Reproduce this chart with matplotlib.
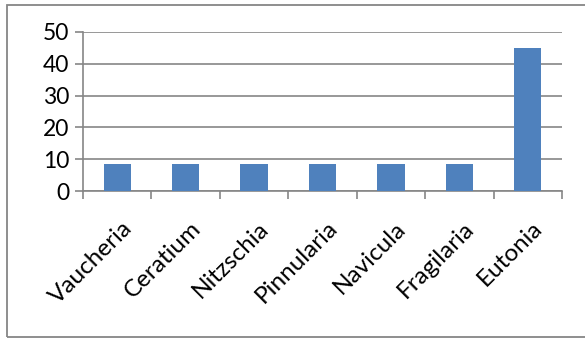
# column chart of diatom / algae counts per genus
import numpy as np
import matplotlib.pyplot as plt
from matplotlib.patches import Rectangle
from matplotlib.ticker import FixedLocator

genera = ['Vaucheria', 'Ceratium', 'Nitzschia', 'Pinnularia',
          'Navicula', 'Fragilaria', 'Eutonia']
counts = [8.5, 8.5, 8.5, 8.5, 8.5, 8.5, 45]
y_ticks = [0, 10, 20, 30, 40, 50]

W, H = 585, 339
fig = plt.figure(figsize=(W / 100, H / 100), dpi=100)

# outer chart frame
fig.patches.append(Rectangle((7 / W, 2 / H), 1.0, 332 / H, transform=fig.transFigure,
                             fill=False, edgecolor='#868686', linewidth=1.3))

# plot area in pixels: left 83, right 562, top 32, bottom 191
ax = fig.add_axes([83 / W, (H - 191) / H, (562 - 83) / W, (191 - 32) / H])

x = np.arange(len(genera))
ax.bar(x, counts, width=0.4, color='#4F81BD', zorder=3)

ax.set_xlim(-0.5, len(genera) - 0.5)
ax.set_ylim(0, 50)
ax.set_yticks(y_ticks)
ax.yaxis.grid(True, color='#868686', linewidth=1.2, zorder=0)

# category boundary ticks, labels on centres
ax.xaxis.set_major_locator(FixedLocator(np.arange(len(genera) + 1) - 0.5))
ax.xaxis.set_minor_locator(FixedLocator(x + 0.06))
ax.set_xticklabels([], minor=False)
ax.set_xticklabels(genera, minor=True, rotation=45, ha='right',
                   rotation_mode='anchor')
ax.tick_params(axis='x', which='major', length=6, width=1.2, color='#868686')
ax.tick_params(axis='x', which='minor', length=0, pad=19, labelsize=17.5)
ax.tick_params(axis='y', length=6, width=1.2, color='#868686', labelsize=16.5, pad=4)
for lbl in ax.get_yticklabels() + ax.get_xticklabels(minor=True):
    lbl.set_family('Lato')

for side in ['top', 'right']:
    ax.spines[side].set_visible(False)
for side in ['left', 'bottom']:
    ax.spines[side].set_color('#868686')
    ax.spines[side].set_linewidth(1.2)

fig.savefig('out.png', dpi=100)
